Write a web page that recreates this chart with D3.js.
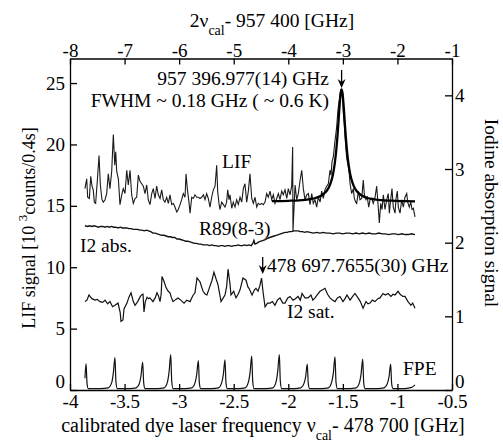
<!DOCTYPE html>
<html>
<head>
<meta charset="utf-8">
<script src="https://cdn.jsdelivr.net/npm/d3@7"></script>
<style>
  body { margin: 0; background: #fff; }
  text { font-family: "Liberation Serif", "Times New Roman", serif; fill: #000; }
</style>
</head>
<body>
<svg id="chart" width="503" height="443"></svg>
<script>
// frequency axis: nu_cal - 478 700 [GHz]; top axis is 2*nu_cal - 957 400
const bottomTicks = [-4, -3.5, -3, -2.5, -2, -1.5, -1, -0.5];
const topTicks = [-8, -7, -6, -5, -4, -3, -2, -1];
const lifTicks = [0, 5, 10, 15, 20, 25];
const iodineTicks = [0, 1, 2, 3, 4];

// LIF signal [10^3 counts / 0.4 s]
const lifData = [
  [-3.863,16.4],[-3.847,17.2],[-3.838,15.7],[-3.823,15.6],[-3.810,17.4],[-3.798,16.6],[-3.787,16.3],[-3.777,15.3],
  [-3.765,15.2],[-3.750,17.0],[-3.734,19.1],[-3.722,16.7],[-3.707,15.5],[-3.695,15.3],[-3.679,15.5],[-3.664,16.0],
  [-3.649,17.6],[-3.634,16.4],[-3.618,17.8],[-3.603,20.8],[-3.590,18.3],[-3.581,19.4],[-3.572,17.8],[-3.557,17.2],
  [-3.542,15.1],[-3.526,15.9],[-3.512,16.4],[-3.496,16.0],[-3.480,17.9],[-3.466,16.7],[-3.450,17.9],[-3.435,15.9],
  [-3.420,15.2],[-3.404,15.6],[-3.389,15.7],[-3.374,17.5],[-3.359,17.0],[-3.343,16.8],[-3.328,16.6],[-3.313,16.0],
  [-3.297,16.7],[-3.283,15.5],[-3.267,15.1],[-3.251,16.0],[-3.237,16.4],[-3.221,15.6],[-3.206,16.6],[-3.191,15.9],
  [-3.175,15.6],[-3.160,16.3],[-3.145,15.5],[-3.130,15.3],[-3.114,15.7],[-3.099,15.2],[-3.084,15.9],[-3.068,15.1],
  [-3.053,15.2],[-3.038,14.9],[-3.022,14.5],[-3.008,14.7],[-2.992,15.1],[-2.977,15.5],[-2.962,16.0],[-2.946,15.7],
  [-2.937,17.6],[-2.925,16.4],[-2.910,15.3],[-2.900,14.4],[-2.885,15.7],[-2.870,15.6],[-2.855,15.9],[-2.839,15.7],
  [-2.824,15.7],[-2.809,15.6],[-2.793,15.7],[-2.778,15.9],[-2.763,15.5],[-2.748,16.0],[-2.733,15.6],[-2.717,14.9],
  [-2.702,15.7],[-2.687,16.3],[-2.671,16.6],[-2.656,18.3],[-2.647,16.2],[-2.635,15.2],[-2.626,14.7],[-2.610,15.3],
  [-2.595,15.1],[-2.580,14.9],[-2.565,15.3],[-2.555,16.3],[-2.543,15.5],[-2.534,15.9],[-2.518,14.8],[-2.504,15.3],
  [-2.488,14.9],[-2.473,15.5],[-2.458,15.1],[-2.442,15.7],[-2.427,15.3],[-2.412,16.4],[-2.397,16.8],[-2.381,15.3],
  [-2.366,16.2],[-2.351,17.6],[-2.335,15.6],[-2.320,15.2],[-2.305,15.7],[-2.289,14.9],[-2.275,15.2],[-2.259,15.1],
  [-2.244,15.2],[-2.229,15.1],[-2.213,15.3],[-2.198,16.0],[-2.183,15.7],[-2.167,16.2],[-2.152,15.5],[-2.137,15.9],
  [-2.122,15.2],[-2.106,15.6],[-2.091,16.0],[-2.076,15.5],[-2.060,16.2],[-2.046,15.9],[-2.030,16.3],[-2.014,15.6],
  [-2.000,16.4],[-1.984,15.9],[-1.969,16.6],[-1.960,19.8],[-1.957,12.9],[-1.938,16.7],[-1.923,15.5],[-1.908,16.0],
  [-1.893,17.0],[-1.877,17.9],[-1.862,16.4],[-1.847,15.5],[-1.831,15.9],[-1.816,16.0],[-1.801,15.1],[-1.785,16.0],
  [-1.771,15.2],[-1.755,15.5],[-1.740,14.9],[-1.725,15.7],[-1.709,15.3],[-1.694,16.2],[-1.679,15.6],[-1.664,16.3],
  [-1.648,16.6],[-1.633,16.8],[-1.618,17.9],[-1.609,17.5],[-1.599,18.6],[-1.587,19.0],[-1.572,20.3],[-1.557,21.4],
  [-1.545,22.8],[-1.533,23.6],[-1.520,24.4],[-1.511,24.3],[-1.502,23.8],[-1.496,22.6],[-1.487,21.6],[-1.480,20.6],
  [-1.465,18.9],[-1.450,18.2],[-1.441,17.6],[-1.434,16.8],[-1.419,16.0],[-1.404,16.4],[-1.395,15.6],[-1.382,15.3],
  [-1.373,15.2],[-1.358,16.2],[-1.343,15.5],[-1.327,15.6],[-1.313,17.1],[-1.303,15.9],[-1.288,15.5],[-1.276,15.7],
  [-1.263,14.9],[-1.251,15.5],[-1.236,15.6],[-1.221,15.2],[-1.205,15.7],[-1.190,16.6],[-1.175,14.8],[-1.166,13.6],
  [-1.153,15.2],[-1.141,14.7],[-1.129,15.9],[-1.114,14.7],[-1.098,15.5],[-1.084,16.0],[-1.074,14.4],[-1.062,15.5],
  [-1.050,16.4],[-1.038,14.9],[-1.022,14.4],[-1.013,15.6],[-1.001,16.2],[-0.992,14.9],[-0.976,14.4],[-0.961,15.5],
  [-0.946,14.9],[-0.931,15.7],[-0.915,16.0],[-0.906,15.3],[-0.891,14.9],[-0.878,15.3],[-0.866,14.7],[-0.854,14.8],
  [-0.839,14.1]
];

// Lorentzian fit to LIF line
const fitData = [
  [-2.150,15.38],[-2.000,15.41],[-1.900,15.45],[-1.800,15.55],[-1.750,15.64],[-1.700,15.82],[-1.660,16.10],
  [-1.630,16.48],[-1.610,16.91],[-1.590,17.60],[-1.575,18.39],[-1.560,19.57],[-1.550,20.62],[-1.540,21.87],
  [-1.530,23.17],[-1.520,24.17],[-1.5115,24.49],[-1.503,24.17],[-1.493,23.17],[-1.483,21.87],[-1.473,20.62],
  [-1.463,19.57],[-1.448,18.39],[-1.433,17.60],[-1.413,16.91],[-1.393,16.48],[-1.363,16.10],[-1.323,15.82],
  [-1.273,15.64],[-1.223,15.55],[-1.123,15.45],[-1.023,15.41],[-0.923,15.38],[-0.839,15.37]
];

// iodine absorption (right axis)
const i2AbsData = [
  [-3.863,2.23],[-3.84,2.22],[-3.82,2.23],[-3.80,2.22],[-3.78,2.23],[-3.76,2.22],[-3.74,2.21],[-3.72,2.22],
  [-3.70,2.22],[-3.68,2.21],[-3.66,2.22],[-3.64,2.21],[-3.62,2.22],[-3.60,2.21],[-3.58,2.21],[-3.56,2.20],
  [-3.54,2.21],[-3.52,2.20],[-3.50,2.20],[-3.48,2.20],[-3.46,2.19],[-3.44,2.19],[-3.42,2.18],[-3.40,2.18],
  [-3.38,2.18],[-3.36,2.17],[-3.34,2.17],[-3.32,2.16],[-3.30,2.17],[-3.28,2.16],[-3.26,2.15],[-3.24,2.13],
  [-3.22,2.13],[-3.20,2.12],[-3.18,2.11],[-3.16,2.10],[-3.14,2.10],[-3.12,2.09],[-3.10,2.08],[-3.08,2.08],
  [-3.06,2.07],[-3.04,2.07],[-3.02,2.05],[-3.00,2.05],[-2.98,2.04],[-2.96,2.03],[-2.94,2.02],[-2.92,2.02],
  [-2.90,2.01],[-2.88,2.00],[-2.86,1.99],[-2.84,1.99],[-2.82,1.98],[-2.80,1.98],[-2.78,1.97],[-2.76,1.97],
  [-2.74,1.97],[-2.72,1.96],[-2.70,1.97],[-2.68,1.96],[-2.66,1.96],[-2.64,1.95],[-2.62,1.96],[-2.60,1.96],
  [-2.58,1.95],[-2.56,1.96],[-2.54,1.96],[-2.52,1.95],[-2.50,1.96],[-2.48,1.96],[-2.46,1.97],[-2.44,1.96],
  [-2.42,1.96],[-2.40,1.97],[-2.38,1.96],[-2.36,1.97],[-2.34,1.96],[-2.325,1.99],[-2.315,2.03],[-2.305,1.98],
  [-2.29,1.99],[-2.27,2.01],[-2.25,2.02],[-2.23,2.03],[-2.21,2.04],[-2.19,2.06],[-2.17,2.07],[-2.15,2.08],
  [-2.13,2.09],[-2.11,2.10],[-2.09,2.11],[-2.07,2.12],[-2.05,2.13],[-2.03,2.14],[-2.01,2.14],[-1.99,2.15],
  [-1.97,2.15],[-1.95,2.16],[-1.93,2.16],[-1.91,2.16],[-1.89,2.15],[-1.87,2.15],[-1.85,2.14],[-1.83,2.15],
  [-1.80,2.14],[-1.77,2.13],[-1.74,2.14],[-1.71,2.13],[-1.68,2.14],[-1.65,2.13],[-1.62,2.13],[-1.59,2.12],
  [-1.56,2.13],[-1.53,2.13],[-1.50,2.12],[-1.47,2.13],[-1.44,2.13],[-1.41,2.12],[-1.38,2.13],[-1.35,2.12],
  [-1.32,2.13],[-1.29,2.12],[-1.26,2.13],[-1.23,2.12],[-1.20,2.12],[-1.17,2.13],[-1.14,2.12],[-1.11,2.12],
  [-1.08,2.11],[-1.05,2.12],[-1.02,2.12],[-0.99,2.11],[-0.96,2.12],[-0.93,2.11],[-0.90,2.11],[-0.87,2.12],
  [-0.839,2.11]
];

// iodine saturation spectrum (right axis)
const i2SatData = [
  [-3.863,1.20],[-3.845,1.22],[-3.826,1.29],[-3.800,1.24],[-3.771,1.22],[-3.750,1.23],[-3.725,1.20],[-3.700,1.19],
  [-3.679,1.22],[-3.655,1.17],[-3.634,1.20],[-3.610,1.13],[-3.588,1.15],[-3.560,1.18],[-3.540,1.05],[-3.533,0.93],
  [-3.515,0.95],[-3.505,1.10],[-3.478,1.18],[-3.460,1.26],[-3.441,1.32],[-3.420,1.20],[-3.404,1.15],[-3.380,1.20],
  [-3.359,1.26],[-3.345,1.29],[-3.331,1.30],[-3.322,1.06],[-3.310,1.20],[-3.294,1.26],[-3.280,1.24],[-3.267,1.25],
  [-3.240,1.20],[-3.220,1.25],[-3.203,1.32],[-3.190,1.28],[-3.175,1.20],[-3.165,1.30],[-3.157,1.54],[-3.140,1.48],
  [-3.120,1.39],[-3.100,1.34],[-3.084,1.32],[-3.070,1.25],[-3.056,1.20],[-3.030,1.23],[-3.010,1.25],[-2.985,1.22],
  [-2.955,1.18],[-2.930,1.22],[-2.900,1.20],[-2.875,1.28],[-2.855,1.32],[-2.836,1.52],[-2.809,1.47],[-2.781,1.34],
  [-2.760,1.30],[-2.745,1.29],[-2.720,1.40],[-2.699,1.49],[-2.681,1.60],[-2.660,1.50],[-2.644,1.43],[-2.616,1.20],
  [-2.600,1.24],[-2.580,1.29],[-2.565,1.40],[-2.552,1.64],[-2.535,1.45],[-2.525,1.29],[-2.500,1.34],[-2.479,1.25],
  [-2.460,1.30],[-2.442,1.36],[-2.415,1.52],[-2.387,1.49],[-2.370,1.40],[-2.360,1.38],[-2.332,1.29],[-2.310,1.36],
  [-2.296,1.38],[-2.277,1.34],[-2.260,1.42],[-2.245,1.52],[-2.232,1.34],[-2.213,1.13],[-2.190,1.18],[-2.167,1.18],
  [-2.145,1.20],[-2.122,1.15],[-2.100,1.22],[-2.076,1.25],[-2.050,1.18],[-2.030,1.18],[-2.005,1.25],[-1.984,1.27],
  [-1.957,1.22],[-1.935,1.24],[-1.911,1.27],[-1.890,1.22],[-1.874,1.31],[-1.847,1.25],[-1.819,1.25],[-1.792,1.29],
  [-1.775,1.22],[-1.755,1.25],[-1.730,1.30],[-1.709,1.34],[-1.685,1.36],[-1.664,1.38],[-1.640,1.30],[-1.618,1.25],
  [-1.595,1.22],[-1.572,1.20],[-1.550,1.25],[-1.526,1.27],[-1.499,1.20],[-1.480,1.24],[-1.462,1.29],[-1.434,1.22],
  [-1.410,1.27],[-1.389,1.31],[-1.361,1.25],[-1.340,1.20],[-1.315,1.11],[-1.288,1.20],[-1.270,1.17],[-1.251,1.18],
  [-1.230,1.22],[-1.205,1.20],[-1.180,1.24],[-1.160,1.25],[-1.132,1.31],[-1.110,1.29],[-1.086,1.31],[-1.059,1.27],
  [-1.040,1.30],[-1.022,1.29],[-0.994,1.34],[-0.975,1.30],[-0.967,1.29],[-0.950,1.27],[-0.931,1.27],[-0.903,1.20],
  [-0.876,1.15],[-0.860,1.18],[-0.839,1.11]
];

// Fabry-Perot etalon transmission (right axis)
const fpeData = [
  [-3.863,0.16],[-3.853,0.36],[-3.844,0.09],[-3.833,0.02],[-3.720,0.02],[-3.650,0.03],[-3.618,0.10],[-3.603,0.23],
  [-3.588,0.44],[-3.579,0.11],[-3.567,0.02],
  [-3.454,0.02],[-3.394,0.03],[-3.364,0.09],[-3.349,0.20],[-3.334,0.38],[-3.325,0.10],[-3.313,0.02],
  [-3.197,0.02],[-3.137,0.03],[-3.107,0.11],[-3.092,0.25],[-3.077,0.48],[-3.068,0.12],[-3.056,0.02],
  [-2.944,0.02],[-2.884,0.03],[-2.854,0.10],[-2.839,0.21],[-2.824,0.40],[-2.815,0.10],[-2.803,0.02],
  [-2.700,0.02],[-2.640,0.03],[-2.610,0.10],[-2.595,0.21],[-2.580,0.41],[-2.571,0.10],[-2.559,0.02],
  [-2.455,0.02],[-2.395,0.03],[-2.365,0.11],[-2.350,0.24],[-2.335,0.46],[-2.326,0.12],[-2.314,0.02],
  [-2.202,0.02],[-2.142,0.03],[-2.112,0.11],[-2.097,0.25],[-2.082,0.48],[-2.073,0.12],[-2.061,0.02],
  [-1.946,0.02],[-1.886,0.03],[-1.856,0.09],[-1.841,0.18],[-1.826,0.35],[-1.817,0.09],[-1.805,0.02],
  [-1.692,0.02],[-1.632,0.03],[-1.602,0.11],[-1.587,0.23],[-1.572,0.45],[-1.563,0.11],[-1.551,0.02],
  [-1.438,0.02],[-1.378,0.03],[-1.348,0.10],[-1.333,0.22],[-1.318,0.42],[-1.309,0.10],[-1.297,0.02],
  [-1.182,0.02],[-1.122,0.03],[-1.092,0.09],[-1.077,0.18],[-1.062,0.35],[-1.053,0.09],[-1.041,0.02],
  [-0.930,0.02],[-0.870,0.035],[-0.839,0.07]
];

// marked line centres
const lifCentre = -1.5115;
const satCentre = -2.2345;

const svg = d3.select("#chart");
const margin = { top: 58.5, right: 51, bottom: 53, left: 70 };
const width = 503 - margin.left - margin.right;
const height = 443 - margin.top - margin.bottom;

const g = svg.append("g").attr("transform", `translate(${margin.left},${margin.top})`);

const x = d3.scaleLinear().domain([-4, -0.5]).range([0, width]);
const xTop = d3.scaleLinear().domain([-8, -1]).range([0, width]);
const yLif = d3.scaleLinear().domain([0, 27]).range([height, 0]);
const yIod = d3.scaleLinear().domain([0, 4.5]).range([height, 0]);

const fmt = d => String(d);

function styleAxis(sel) {
  sel.selectAll("path, line").attr("stroke", "#000").attr("stroke-width", 1.3);
  sel.selectAll("text").attr("font-size", 19).attr("font-family", '"Liberation Serif", serif');
}
// the zero labels of the vertical axes sit a little above the corner, as in the original
function liftZero(sel) {
  sel.selectAll(".tick text").filter(d => d === 0).attr("dy", "-0.12em");
}

g.append("g").attr("transform", `translate(0,${height})`)
  .call(d3.axisBottom(x).tickValues(bottomTicks).tickFormat(fmt).tickSizeInner(-6).tickSizeOuter(0).tickPadding(5))
  .call(styleAxis);
g.append("g")
  .call(d3.axisTop(xTop).tickValues(topTicks).tickFormat(fmt).tickSizeInner(-6).tickSizeOuter(0).tickPadding(2))
  .call(styleAxis);
g.append("g")
  .call(d3.axisLeft(yLif).tickValues(lifTicks).tickFormat(fmt).tickSizeInner(-7).tickSizeOuter(0).tickPadding(5))
  .call(styleAxis).call(liftZero);
g.append("g").attr("transform", `translate(${width},0)`)
  .call(d3.axisRight(yIod).tickValues(iodineTicks).tickFormat(fmt).tickSizeInner(-7).tickSizeOuter(0).tickPadding(3))
  .call(styleAxis).call(liftZero);

const lineLif = d3.line().x(d => x(d[0])).y(d => yLif(d[1]));
const lineIod = d3.line().x(d => x(d[0])).y(d => yIod(d[1]));

g.append("path").datum(fpeData).attr("fill", "none").attr("stroke", "#111").attr("stroke-width", 1.2)
  .attr("d", lineIod.curve(d3.curveMonotoneX));
lineIod.curve(d3.curveLinear);
g.append("path").datum(i2AbsData).attr("fill", "none").attr("stroke", "#111").attr("stroke-width", 1.4)
  .attr("d", lineIod);
g.append("path").datum(i2SatData).attr("fill", "none").attr("stroke", "#111").attr("stroke-width", 1.2)
  .attr("d", lineIod);
g.append("path").datum(lifData).attr("fill", "none").attr("stroke", "#1a1a1a").attr("stroke-width", 1.1)
  .attr("d", lineLif);
g.append("path").datum(fitData).attr("fill", "none").attr("stroke", "#000").attr("stroke-width", 2.3)
  .attr("d", d3.line().x(d => x(d[0])).y(d => yLif(d[1])).curve(d3.curveMonotoneX));

// arrows marking the line centres
function arrow(px, y0, y1) {
  g.append("line").attr("x1", px).attr("x2", px).attr("y1", y0).attr("y2", y1 - 2)
    .attr("stroke", "#000").attr("stroke-width", 1.3);
  g.append("path")
    .attr("d", `M${px - 4},${y1 - 9} L${px},${y1} L${px + 4},${y1 - 9} L${px},${y1 - 6} Z`)
    .attr("fill", "#000");
}
arrow(x(lifCentre), 70 - margin.top, 88 - margin.top);
arrow(x(satCentre), 257 - margin.top, 274 - margin.top);

// annotations (absolute page coords)
const note = (tx, ty, s, anchor) => svg.append("text").attr("x", tx).attr("y", ty)
  .attr("font-size", 19.5).attr("text-anchor", anchor || "start").text(s);
note(329, 85, "957 396.977(14) GHz", "end");
note(329, 107, "FWHM ~ 0.18 GHz ( ~ 0.6 K)", "end");
note(222, 168, "LIF");
note(199, 235, "R89(8-3)");
note(80, 252, "I2 abs.");
note(267, 272, "478 697.7655(30) GHz");
note(287, 318, "I2 sat.");
note(403, 375, "FPE");

// axis titles
const topTitle = svg.append("text").attr("x", 272).attr("y", 27).attr("text-anchor", "middle").attr("font-size", 19.5);
topTitle.append("tspan").text("2ν");
topTitle.append("tspan").attr("dy", 8).attr("font-size", 14).text("cal");
topTitle.append("tspan").attr("dy", -8).text("- 957 400 [GHz]");

const botTitle = svg.append("text").attr("x", 263).attr("y", 432).attr("text-anchor", "middle").attr("font-size", 20);
botTitle.append("tspan").text("calibrated dye laser frequency ν");
botTitle.append("tspan").attr("dy", 8).attr("font-size", 14).text("cal");
botTitle.append("tspan").attr("dy", -8).text("- 478 700 [GHz]");

const leftTitle = svg.append("text").attr("transform", "translate(35,228) rotate(-90)")
  .attr("text-anchor", "middle").attr("font-size", 18);
leftTitle.append("tspan").text("LIF signal [10 ");
leftTitle.append("tspan").attr("dy", -8).attr("font-size", 13).text("3");
leftTitle.append("tspan").attr("dy", 8).text("counts/0.4s]");

svg.append("text").attr("transform", "translate(485,213) rotate(90)")
  .attr("text-anchor", "middle").attr("font-size", 19.5).text("Iodine absorption signal");
</script>
</body>
</html>
